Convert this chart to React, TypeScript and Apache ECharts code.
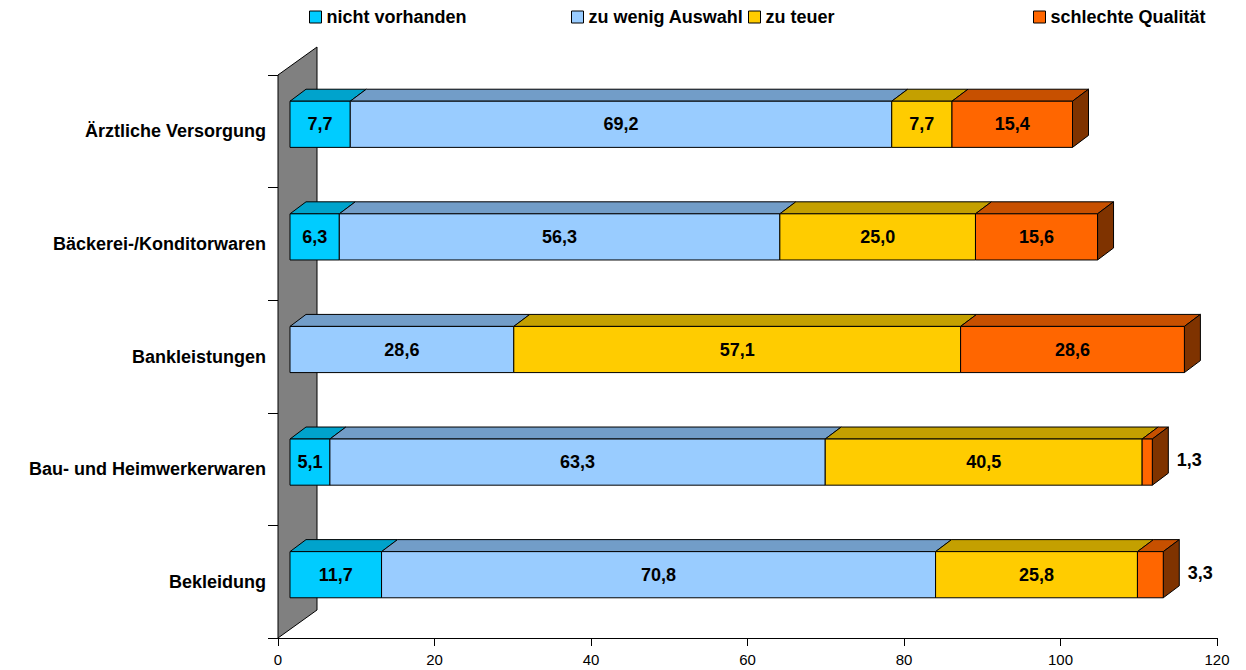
import React, { useEffect, useRef } from "react";
import * as echarts from "echarts";

// Kategorien (von oben nach unten) und Anteile je Grund in Prozent
const categories = [
  "Ärztliche Versorgung",
  "Bäckerei-/Konditorwaren",
  "Bankleistungen",
  "Bau- und Heimwerkerwaren",
  "Bekleidung",
];
const seriesNames = ["nicht vorhanden", "zu wenig Auswahl", "zu teuer", "schlechte Qualität"];
const nichtVorhanden = [7.7, 6.3, 0, 5.1, 11.7];
const zuWenigAuswahl = [69.2, 56.3, 28.6, 63.3, 70.8];
const zuTeuer = [7.7, 25.0, 57.1, 40.5, 25.8];
const schlechteQualitaet = [15.4, 15.6, 28.6, 1.3, 3.3];
const xMin = 0;
const xMax = 120;
const xStep = 20;

// Farben: Vorderseite, Oberseite, rechte Seitenfläche
const frontColors = ["#00CCFF", "#99CCFF", "#FFCC00", "#FF6600"];
const topColors = ["#00A3CC", "#729DC8", "#C4A000", "#C75000"];
const sideColors = ["#006680", "#4D6680", "#806600", "#7F3300"];

// 3D-Geometrie (Pixel)
const FRONT_DX = 12;
const FRONT_DY = -7;
const DEPTH_DX = 16;
const DEPTH_DY = -12;
const BAR_RATIO = 0.41;
const WALL_DX = 39;
const WALL_DY = -28;
const OUTSIDE_LABEL_DX = 37;
const FONT = "'Liberation Sans', Arial, Helvetica, sans-serif";
const LABEL_SIZE = 18;
const legendLefts = [309, 571, 748, 1033];

const allValues = [nichtVorhanden, zuWenigAuswahl, zuTeuer, schlechteQualitaet];

function fmt(v: number) {
  return v.toFixed(1).replace(".", ",");
}

// Für jede Serie: [start, ende, kategorieIndex, wert, istLetztesSegment]
function buildSegments() {
  const result: number[][][] = allValues.map(() => []);
  categories.forEach((_, ci) => {
    let acc = 0;
    let lastSeries = -1;
    allValues.forEach((arr, si) => {
      if (arr[ci] > 0) lastSeries = si;
    });
    allValues.forEach((arr, si) => {
      const v = arr[ci];
      result[si].push([acc, acc + v, ci, v, si === lastSeries ? 1 : 0]);
      acc += v;
    });
  });
  return result;
}

export default function App() {
  const ref = useRef<HTMLDivElement>(null);

  useEffect(() => {
    document.body.style.margin = "0";
    if (!ref.current) return;
    const chart = echarts.init(ref.current, undefined, { renderer: "svg" });
    const segments = buildSegments();

    const renderSegment = (si: number) => (params: any, api: any) => {
      const start = api.value(0);
      const end = api.value(1);
      const cat = api.value(2);
      const val = api.value(3);
      const isLast = api.value(4);
      if (!(end > start)) return null;
      const p0 = api.coord([start, cat]);
      const p1 = api.coord([end, cat]);
      const bandH = api.size([0, 1])[1];
      const h = bandH * BAR_RATIO;
      const x0 = p0[0] + FRONT_DX;
      const x1 = p1[0] + FRONT_DX;
      const yc = p0[1] + FRONT_DY;
      const yt = yc - h / 2;
      const yb = yc + h / 2;
      const edge = { stroke: "#000", lineWidth: 1 };
      const children: any[] = [
        {
          type: "polygon",
          shape: {
            points: [
              [x0, yt],
              [x0 + DEPTH_DX, yt + DEPTH_DY],
              [x1 + DEPTH_DX, yt + DEPTH_DY],
              [x1, yt],
            ],
          },
          style: { fill: topColors[si], ...edge },
        },
      ];
      if (isLast) {
        children.push({
          type: "polygon",
          shape: {
            points: [
              [x1, yt],
              [x1 + DEPTH_DX, yt + DEPTH_DY],
              [x1 + DEPTH_DX, yb + DEPTH_DY],
              [x1, yb],
            ],
          },
          style: { fill: sideColors[si], ...edge },
        });
      }
      children.push({
        type: "rect",
        shape: { x: x0, y: yt, width: x1 - x0, height: yb - yt },
        style: { fill: frontColors[si], ...edge },
      });
      const outside = val < 4;
      children.push({
        type: "text",
        style: {
          text: fmt(val),
          x: outside ? x1 + OUTSIDE_LABEL_DX : (x0 + x1) / 2,
          y: outside ? yc - 2 : yc,
          align: "center",
          verticalAlign: "middle",
          fill: "#000",
          fontSize: LABEL_SIZE,
          fontWeight: "bold",
          fontFamily: FONT,
        },
      });
      return { type: "group", children };
    };

    const renderWall = (params: any, api: any) => {
      const cs = params.coordSys;
      const x0 = api.coord([xMin, 0])[0];
      const top = cs.y;
      const bottom = cs.y + cs.height;
      return {
        type: "polygon",
        shape: {
          points: [
            [x0, top],
            [x0 + WALL_DX, top + WALL_DY],
            [x0 + WALL_DX, bottom + WALL_DY],
            [x0, bottom],
          ],
        },
        style: { fill: "#808080", stroke: "#000", lineWidth: 1 },
      };
    };

    const series: any[] = [
      {
        type: "custom",
        name: "wall",
        coordinateSystem: "cartesian2d",
        renderItem: renderWall,
        data: [[xMin, 0]],
        encode: { x: 0, y: 1 },
        silent: true,
        z: 1,
      },
      ...seriesNames.map((name, si) => ({
        type: "custom",
        name,
        coordinateSystem: "cartesian2d",
        renderItem: renderSegment(si),
        data: segments[si],
        encode: { x: [0, 1], y: 2 },
        itemStyle: { color: frontColors[si] },
        z: 2 + si,
      })),
    ];

    chart.setOption({
      animation: false,
      textStyle: { fontFamily: FONT },
      grid: { left: 278, right: 29, top: 75, bottom: 32, containLabel: false },
      legend: seriesNames.map((name, i) => ({
        data: [name],
        left: legendLefts[i],
        top: 8,
        padding: 0,
        icon: "rect",
        itemWidth: 12,
        itemHeight: 12,
        itemGap: 0,
        selectedMode: false,
        itemStyle: { borderColor: "#000", borderWidth: 1 },
        textStyle: { fontSize: LABEL_SIZE, fontWeight: "bold", color: "#000", fontFamily: FONT },
      })),
      xAxis: {
        type: "value",
        min: xMin,
        max: xMax,
        interval: xStep,
        axisLine: { show: true, lineStyle: { color: "#000", width: 1 } },
        axisTick: { show: true, length: 8, lineStyle: { color: "#000" } },
        axisLabel: { fontSize: 15, color: "#000", margin: 14, fontFamily: FONT },
        splitLine: { show: false },
      },
      yAxis: {
        type: "category",
        data: categories,
        inverse: true,
        axisLine: { show: true, lineStyle: { color: "#000", width: 1 } },
        axisTick: { show: true, length: 10, lineStyle: { color: "#000" } },
        axisLabel: { fontSize: LABEL_SIZE, fontWeight: "bold", color: "#000", margin: 12, fontFamily: FONT },
        splitLine: { show: false },
      },
      series,
    });

    return () => chart.dispose();
  }, []);

  return (
    <div
      ref={ref}
      style={{ position: "absolute", left: 0, top: 0, width: 1246, height: 670, background: "#fff" }}
    />
  );
}
